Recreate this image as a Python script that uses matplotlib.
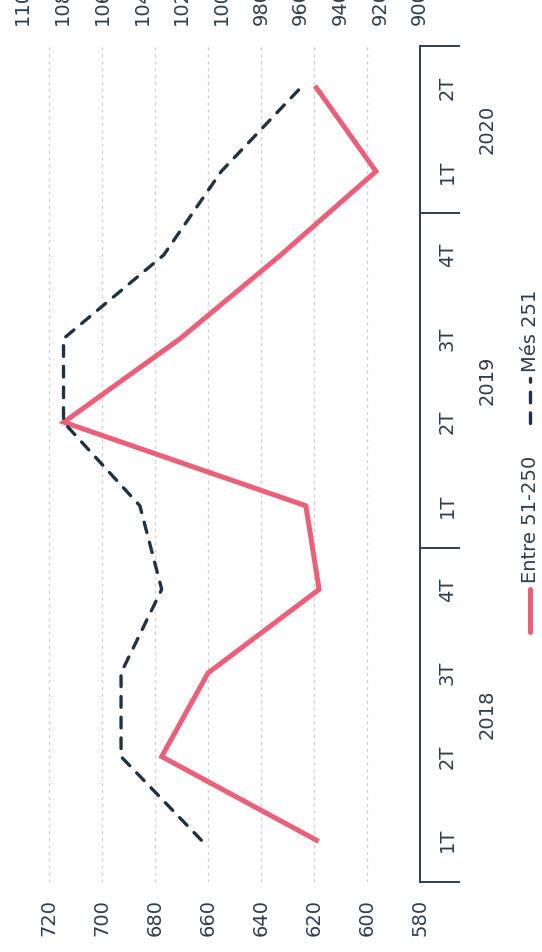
import matplotlib
matplotlib.use("Agg")
import matplotlib.pyplot as plt
from matplotlib.lines import Line2D

# data
quarters = ["1T", "2T", "3T", "4T", "1T", "2T", "3T", "4T", "1T", "2T"]
years = ["2018", "2018", "2018", "2018", "2019", "2019", "2019", "2019", "2020", "2020"]
entre_51_250 = [619, 677.5, 660, 618, 623, 714.5, 670.5, 632.5, 596.5, 619]
mes_251 = [1010, 1050.5, 1050.5, 1030, 1041, 1079.5, 1079.5, 1029, 1000, 960]
left_ticks = [580, 600, 620, 640, 660, 680, 700, 720]
right_ticks = [900, 920, 940, 960, 980, 1000, 1020, 1040, 1060, 1080, 1100]

PINK = "#ec5f79"
NAVY = "#1f3344"
TXT = "#2d3e50"
GRID = "#cfcfcf"
FS = 14

plt.rcParams["font.family"] = ["DejaVu Sans"]

W, H = 542, 952
fig = plt.figure(figsize=(W / 100, H / 100), dpi=100)
ax = fig.add_axes([22.85 / W, 1 - 882 / H, (419.6 - 22.85) / W, (882 - 46) / H])

idx = list(range(len(quarters)))

# chart is drawn rotated: categories go bottom->top, values right->left
ax.plot(entre_51_250, idx, color=PINK, lw=3.6, solid_joinstyle="miter", zorder=3)
ax.set_xlim(730, 580)
ax.set_ylim(-0.5, len(quarters) - 0.5)

ax2 = ax.twiny()
ax2.plot(mes_251, idx, color=NAVY, lw=2.4, linestyle=(0, (3.2, 3.0)),
         dash_capstyle="round", zorder=3)
ax2.set_xlim(1100, 900)

for s in ax.spines.values():
    s.set_visible(False)
for s in ax2.spines.values():
    s.set_visible(False)
ax.spines["right"].set_visible(True)
ax.spines["right"].set_color(TXT)
ax.spines["right"].set_linewidth(1.4)

# value axes
ax.set_xticks(left_ticks)
ax.set_xticklabels([str(v) for v in left_ticks])
ax.tick_params(axis="x", length=0, pad=12, labelrotation=90, labelsize=FS, labelcolor=TXT)
ax2.set_xticks(right_ticks)
ax2.set_xticklabels([str(v) for v in right_ticks])
ax2.tick_params(axis="x", length=0, pad=15, labelrotation=90, labelsize=FS, labelcolor=TXT)

ax.grid(axis="x", color=GRID, linestyle=(0, (2.5, 3)), lw=0.9)
ax.set_axisbelow(True)

# category axis (right side)
ax.yaxis.tick_right()
ax.set_yticks(idx)
ax.set_yticklabels(quarters)
ax.tick_params(axis="y", which="major", length=0, pad=13, labelrotation=90,
               labelsize=FS, labelcolor=TXT)
for lbl in ax.get_yticklabels():
    lbl.set_va("center")

uniq = []
for y in years:
    if y not in uniq:
        uniq.append(y)
bounds = [-0.5]
for y in uniq:
    pos = [i for i, v in enumerate(years) if v == y]
    bounds.append(pos[-1] + 0.5)
    ax.text(1.17, sum(pos) / len(pos), y, transform=ax.get_yaxis_transform(),
            rotation=90, ha="center", va="center", fontsize=FS, color=TXT)
ax.set_yticks(bounds, minor=True)
ax.tick_params(axis="y", which="minor", length=29, width=1.4, color=TXT, direction="out")

# legend (rotated, drawn by hand)
lx = 530 / W
fig.add_artist(Line2D([lx, lx], [1 - 632 / H, 1 - 589 / H], transform=fig.transFigure,
                      color=PINK, lw=3.6, solid_capstyle="round"))
fig.text(lx, 1 - 583 / H, "Entre 51-250", rotation=90, ha="center", va="bottom",
         fontsize=FS, color=TXT)
fig.add_artist(Line2D([lx, lx], [1 - 423 / H, 1 - 378 / H], transform=fig.transFigure,
                      color=NAVY, lw=2.4, linestyle=(0, (3.2, 3.0)), dash_capstyle="round"))
fig.text(lx, 1 - 372 / H, "Més 251", rotation=90, ha="center", va="bottom",
         fontsize=FS, color=TXT)

fig.savefig("out.png", dpi=100, facecolor="white")
